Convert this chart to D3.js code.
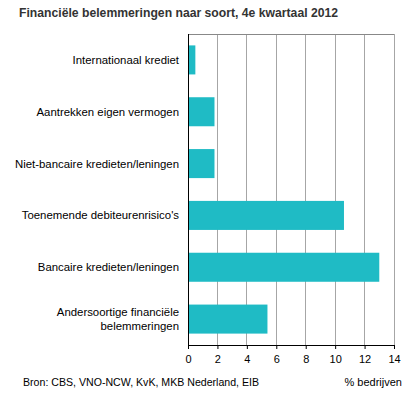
<!DOCTYPE html>
<html>
<head>
<meta charset="utf-8">
<script src="https://cdn.jsdelivr.net/npm/d3@7"></script>
<style>
  body { margin: 0; background: #fff; }
  svg { display: block; font-family: Arial, "Liberation Sans", sans-serif; }
</style>
</head>
<body>
<div id="wrapper"></div>
<script>
// data
const categories = [
  "Internationaal krediet",
  "Aantrekken eigen vermogen",
  "Niet-bancaire kredieten/leningen",
  "Toenemende debiteurenrisico's",
  "Bancaire kredieten/leningen",
  "Andersoortige financiële|belemmeringen",
]
const values = [0.5, 1.8, 1.8, 10.6, 13.0, 5.4]
const xTicks = [0, 2, 4, 6, 8, 10, 12, 14]

const title = "Financiële belemmeringen naar soort, 4e kwartaal 2012"
const source = "Bron: CBS, VNO-NCW, KvK, MKB Nederland, EIB"
const unit = "% bedrijven"

const dataset = categories.map((c, i) => ({ label: c, value: values[i] }))

//chart dimensions
let dimensions = {
  width: 416,
  height: 405,
  margin: { top: 34, right: 22, bottom: 60, left: 188 },
}
dimensions.boundedWidth = dimensions.width - dimensions.margin.left - dimensions.margin.right
dimensions.boundedHeight = dimensions.height - dimensions.margin.top - dimensions.margin.bottom

const wrapper = d3.select("#wrapper")
  .append("svg")
  .attr("width", dimensions.width)
  .attr("height", dimensions.height)

wrapper.append("text")
  .attr("x", 19)
  .attr("y", 17)
  .attr("fill", "#333")
  .style("font-size", "12.2px")
  .style("font-weight", "bold")
  .text(title)

const bounds = wrapper.append("g")
  .attr("transform", `translate(${dimensions.margin.left},${dimensions.margin.top})`)

//scales
const xScale = d3.scaleLinear()
  .domain([0, 14])
  .range([0, dimensions.boundedWidth])

const yScale = d3.scaleBand()
  .domain(categories)
  .range([0, dimensions.boundedHeight])
  .paddingInner(0.44)
  .paddingOuter(0.22)

//grid
bounds.append("g")
  .selectAll("line")
  .data(xTicks.slice(1))
  .join("line")
  .attr("x1", d => xScale(d))
  .attr("x2", d => xScale(d))
  .attr("y1", 0)
  .attr("y2", dimensions.boundedHeight)
  .attr("stroke", "#a6a6a6")
  .attr("stroke-width", 1)
  .attr("shape-rendering", "crispEdges")

bounds.append("line")
  .attr("x1", 0)
  .attr("x2", dimensions.boundedWidth)
  .attr("y1", 0)
  .attr("y2", 0)
  .attr("stroke", "#888")
  .attr("shape-rendering", "crispEdges")

//bars
bounds.append("g")
  .selectAll("rect")
  .data(dataset)
  .join("rect")
  .attr("x", 0)
  .attr("y", d => yScale(d.label))
  .attr("width", d => xScale(d.value))
  .attr("height", yScale.bandwidth())
  .attr("fill", "#1fbbc5")

//x axis
const xAxisGenerator = d3.axisBottom(xScale)
  .tickValues(xTicks)
  .tickSize(4)
  .tickSizeOuter(0)
  .tickPadding(6)

const xAxis = bounds.append("g")
  .attr("transform", `translate(0,${dimensions.boundedHeight})`)
  .call(xAxisGenerator)
xAxis.select(".domain").attr("stroke", "#000")
xAxis.selectAll(".tick line").attr("stroke", "#000")
xAxis.selectAll(".tick text")
  .attr("fill", "#000")
  .style("font-size", "11px")
  .style("font-family", "Arial, 'Liberation Sans', sans-serif")

//y axis line
bounds.append("line")
  .attr("x1", 0)
  .attr("x2", 0)
  .attr("y1", 0)
  .attr("y2", dimensions.boundedHeight)
  .attr("stroke", "#000")
  .attr("shape-rendering", "crispEdges")

//category labels
const labels = bounds.append("g")
  .selectAll("text")
  .data(dataset)
  .join("text")
  .attr("x", -9)
  .attr("y", d => yScale(d.label) + yScale.bandwidth() / 2)
  .attr("text-anchor", "end")
  .attr("fill", "#000")
  .style("font-size", "11.4px")

labels.each(function (d) {
  const parts = d.label.split("|")
  const t = d3.select(this)
  parts.forEach((p, i) => {
    t.append("tspan")
      .attr("x", -9)
      .attr("dy", i === 0 ? `${0.35 - (parts.length - 1) * 0.65}em` : "1.3em")
      .text(p)
  })
})

//footer
wrapper.append("text")
  .attr("x", 23)
  .attr("y", 386)
  .attr("fill", "#000")
  .style("font-size", "10.6px")
  .text(source)

wrapper.append("text")
  .attr("x", 402)
  .attr("y", 386)
  .attr("text-anchor", "end")
  .attr("fill", "#000")
  .style("font-size", "11px")
  .text(unit)
</script>
</body>
</html>
